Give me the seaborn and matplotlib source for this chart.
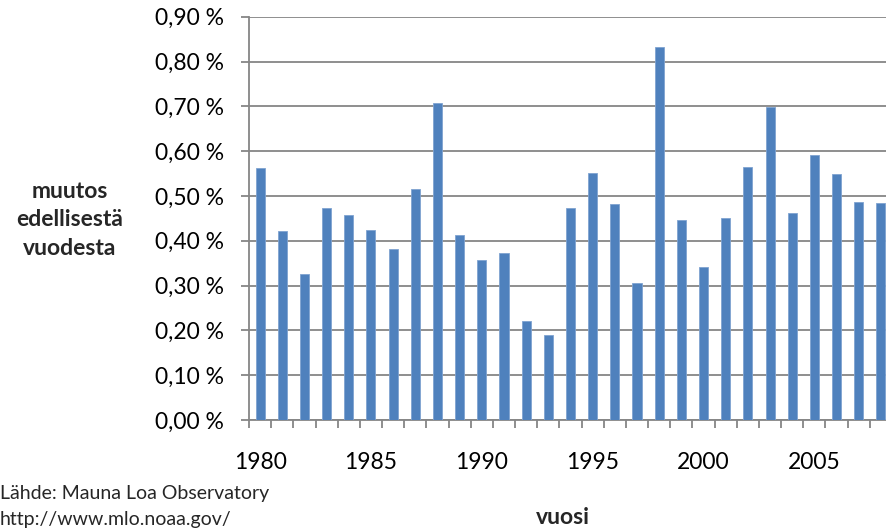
import matplotlib
matplotlib.use("Agg")
import matplotlib.pyplot as plt
import seaborn as sns
import pandas as pd
from matplotlib.ticker import FuncFormatter, FixedLocator

# Annual change of atmospheric CO2 concentration (percent of previous year)
years = list(range(1980, 2009))
change_pct = [0.563, 0.421, 0.325, 0.474, 0.457, 0.423, 0.381, 0.515, 0.707,
              0.412, 0.356, 0.372, 0.221, 0.190, 0.472, 0.551, 0.482, 0.305,
              0.833, 0.446, 0.342, 0.451, 0.565, 0.698, 0.462, 0.592, 0.549,
              0.487, 0.484]
label_years = [1980, 1985, 1990, 1995, 2000, 2005]

sns.set_theme(style="white")
plt.rcParams["font.family"] = ["Lato", "DejaVu Sans"]

df = pd.DataFrame({"vuosi": [str(y) for y in years], "muutos": change_pct})

fig = plt.figure(figsize=(8.86, 5.32), dpi=100)
ax = fig.add_axes([249 / 886, 112 / 532, 643 / 886, 403.3 / 532])

grid_col = "#868686"
sns.barplot(data=df, x="vuosi", y="muutos", color="#4F81BD", saturation=1,
            width=0.41, edgecolor="#7FA3D1", linewidth=0.6, ax=ax, zorder=3)

ax.set_ylim(0, 0.9)
ax.set_xlim(-0.5, len(years) - 0.5)
ax.set_yticks([i / 10 for i in range(10)])
ax.yaxis.set_major_formatter(FuncFormatter(lambda v, p: f"{v:.2f}".replace(".", ",") + " %"))
ax.grid(axis="y", color=grid_col, linewidth=1.3, zorder=0)
ax.set_axisbelow(True)

# Year labels every five years, tick marks on category boundaries
pos = [years.index(y) for y in label_years]
ax.set_xticks(pos)
ax.set_xticklabels([str(y) for y in label_years])
ax.xaxis.set_minor_locator(FixedLocator([i - 0.5 for i in range(len(years) + 1)]))
ax.tick_params(axis="x", which="major", length=0, pad=23, labelsize=16.5, colors="black")
ax.tick_params(axis="x", which="minor", length=6, width=1.3, color=grid_col, direction="out", bottom=True)
ax.tick_params(axis="y", which="major", length=6, width=1.3, color=grid_col, direction="out",
               pad=12, labelsize=16.5, labelcolor="black", left=True)

for s in ["top", "right"]:
    ax.spines[s].set_visible(False)
for s in ["left", "bottom"]:
    ax.spines[s].set_color(grid_col)
    ax.spines[s].set_linewidth(1.3)

ax.set_xlabel("")
ax.set_ylabel("")

fig.text(70 / 886, 1 - 220 / 532, "muutos\nedellisestä\nvuodesta", ha="center", va="center",
         fontsize=16.5, fontweight="bold", linespacing=1.45)
fig.text(563 / 886, 1 - 517 / 532, "vuosi", ha="center", va="center",
         fontsize=16.5, fontweight="bold")
fig.text(0.0, 1 - 494 / 532, "Lähde: Mauna Loa Observatory", ha="left", va="center", fontsize=14)
fig.text(0.0, 1 - 520 / 532, "http://www.mlo.noaa.gov/", ha="left", va="center", fontsize=14)

fig.savefig("out.png", dpi=100)
